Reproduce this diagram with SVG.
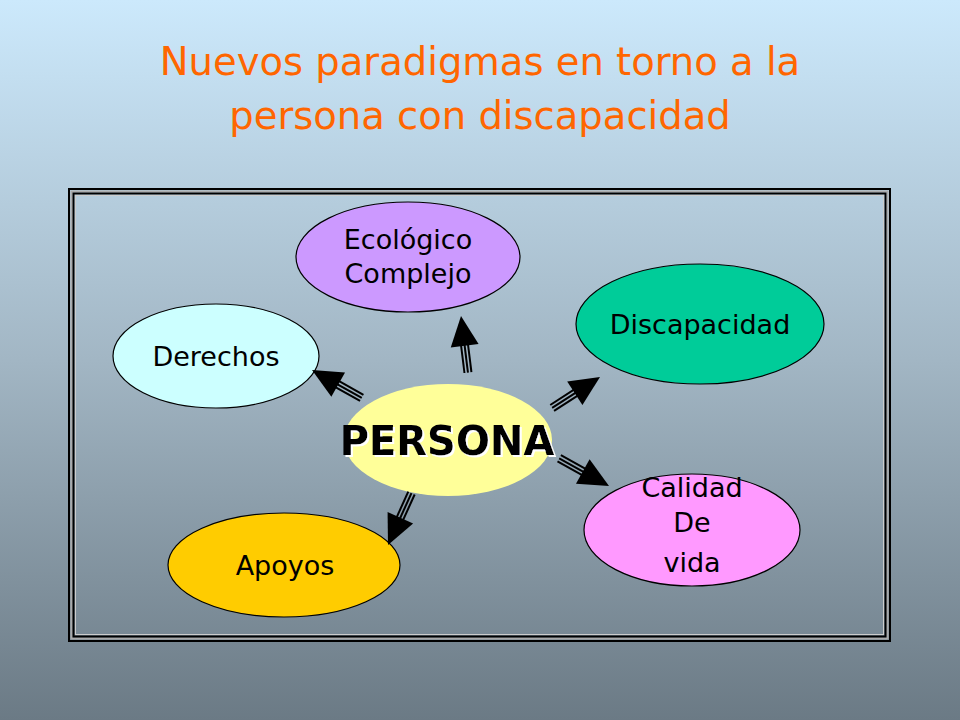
<svg xmlns="http://www.w3.org/2000/svg" width="960" height="720" viewBox="0 0 960 720">
<defs>
<linearGradient id="bg" x1="0" y1="0" x2="0" y2="1">
<stop offset="0" stop-color="#cce9fc"/>
<stop offset="0.5" stop-color="#a2b6c4"/>
<stop offset="1" stop-color="#6b7a85"/>
</linearGradient>
<filter id="sh" x="-10%" y="-20%" width="120%" height="140%">
<feDropShadow dx="2" dy="2" stdDeviation="0.3" flood-color="#ffffff" flood-opacity="1"/>
</filter>
<g id="arr" stroke="#000" stroke-width="2">
<line x1="-20" y1="-3.5" x2="-57" y2="-3.5"/>
<line x1="-20" y1="0" x2="-57" y2="0"/>
<line x1="-20" y1="3.5" x2="-57" y2="3.5"/>
<polygon points="0,0 -30,-14 -30,14" stroke="none" fill="#000"/>
</g>
</defs>
<style>
.t{font-family:"DejaVu Sans","Liberation Sans",sans-serif;font-size:27px;fill:#000;text-anchor:middle}
.title{font-family:"DejaVu Sans","Liberation Sans",sans-serif;font-size:38.5px;fill:#ff6600;text-anchor:middle}
.node{stroke:#000;stroke-width:1.2}
</style>
<rect width="960" height="720" fill="url(#bg)"/>
<text class="title" x="480" y="75">Nuevos paradigmas en torno a la</text>
<text class="title" x="480" y="129">persona con discapacidad</text>
<g id="frame" fill="none">
<rect x="69" y="189" width="821" height="452" stroke="#000" stroke-width="2"/>
<rect x="71.5" y="191.5" width="816" height="447" stroke="#aaa" stroke-width="2"/>
<rect x="73.5" y="193.5" width="812" height="443" stroke="#000" stroke-width="2"/>
<rect x="75.5" y="195.5" width="808" height="439" stroke="#ccc" stroke-width="1"/>
</g>
<g id="ecologico"><ellipse class="node" cx="408" cy="257" rx="112" ry="55" fill="#cc99ff"/><text class="t" x="408" y="249">Ecológico</text><text class="t" x="408" y="283">Complejo</text></g>
<g id="discapacidad"><ellipse class="node" cx="700" cy="324" rx="124" ry="60" fill="#00cc99"/><text class="t" x="700" y="334">Discapacidad</text></g>
<g id="derechos"><ellipse class="node" cx="216" cy="356" rx="103" ry="52" fill="#ccffff"/><text class="t" x="216" y="366">Derechos</text></g>
<g id="apoyos"><ellipse class="node" cx="284" cy="565" rx="116" ry="52" fill="#ffcc00"/><text class="t" x="285" y="575">Apoyos</text></g>
<g id="calidad"><ellipse class="node" cx="692" cy="530" rx="108" ry="56" fill="#ff99ff"/><text class="t" x="692" y="497">Calidad</text><text class="t" x="692" y="532">De</text><text class="t" x="692" y="572">vida</text></g>
<g id="persona"><ellipse cx="448" cy="440" rx="104" ry="56" fill="#ffff99"/>
<text x="447" y="455" filter="url(#sh)" style="font-family:'DejaVu Sans','Liberation Sans',sans-serif;font-size:40px;font-weight:bold;fill:#000;text-anchor:middle">PERSONA</text></g>
<g id="connectors">
<use href="#arr" transform="translate(461,316) rotate(-97)"/>
<use href="#arr" transform="translate(312,370) rotate(-150.8)"/>
<use href="#arr" transform="translate(600,377) rotate(-32.9)"/>
<use href="#arr" transform="translate(609,486) rotate(29.1)"/>
<use href="#arr" transform="translate(388,545) rotate(114.3)"/>
</g>
</svg>
